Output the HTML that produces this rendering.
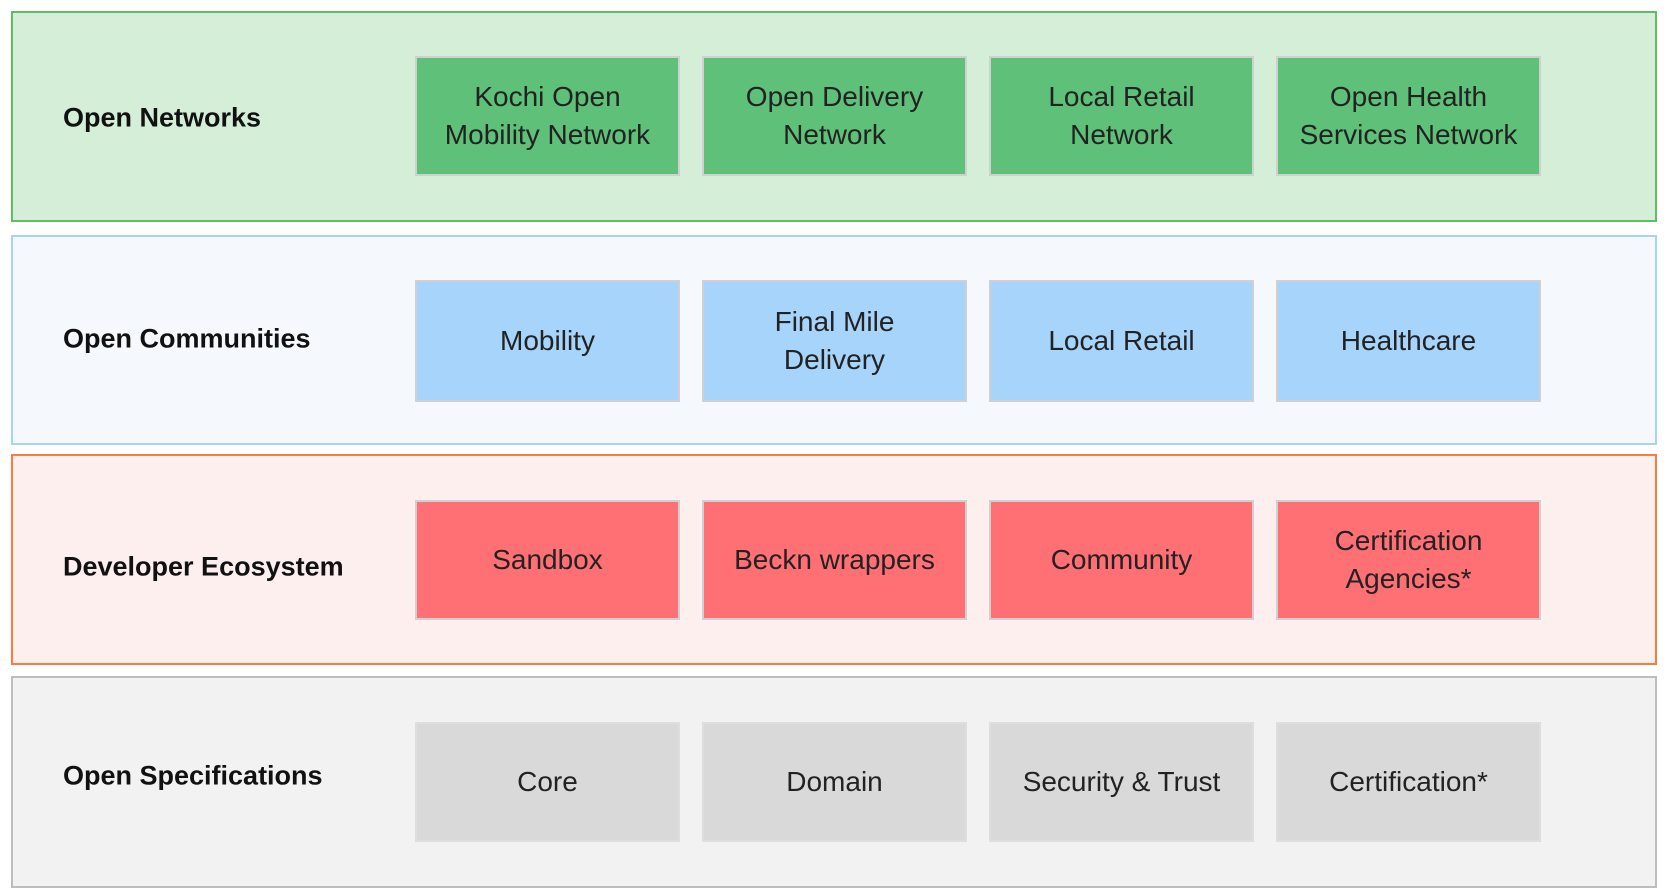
<!DOCTYPE html>
<html><head><style>
body{margin:0;width:1667px;height:896px;background:#fff;position:relative;font-family:"Liberation Sans",sans-serif;overflow:hidden}
.p{position:absolute;left:11px;width:1646px;box-sizing:border-box;border:2px solid}
.l{position:absolute;left:63px;font-weight:bold;font-size:27px;color:#111;transform:translateY(-50%)}
.b{position:absolute;width:265px;box-sizing:border-box;border:2px solid #d0d0d0;display:flex;align-items:center;justify-content:center;text-align:center;font-size:28px;line-height:38px;color:#222}
</style></head><body>
<div class="p" style="top:11px;height:211px;background:#d4eed7;border-color:#5cbf60"></div>
<div class="p" style="top:235px;height:210px;background:#f5f9fe;border-color:#a6d4f7"></div>
<div class="p" style="top:454px;height:211px;background:#fdefee;border-color:#ff7a3d"></div>
<div class="p" style="top:676px;height:212px;background:#f2f2f2;border-color:#bdbdbd"></div>
<div class="l" style="top:118px">Open Networks</div>
<div class="l" style="top:339px">Open Communities</div>
<div class="l" style="top:567px">Developer Ecosystem</div>
<div class="l" style="top:776px">Open Specifications</div>

<div class="b" style="left:415px;top:56px;height:120px;background:#5fc179">Kochi Open<br>Mobility Network</div>
<div class="b" style="left:702px;top:56px;height:120px;background:#5fc179">Open Delivery<br>Network</div>
<div class="b" style="left:989px;top:56px;height:120px;background:#5fc179">Local Retail<br>Network</div>
<div class="b" style="left:1276px;top:56px;height:120px;background:#5fc179">Open Health<br>Services Network</div>

<div class="b" style="left:415px;top:280px;height:122px;background:#a6d4fa">Mobility</div>
<div class="b" style="left:702px;top:280px;height:122px;background:#a6d4fa">Final Mile<br>Delivery</div>
<div class="b" style="left:989px;top:280px;height:122px;background:#a6d4fa">Local Retail</div>
<div class="b" style="left:1276px;top:280px;height:122px;background:#a6d4fa">Healthcare</div>

<div class="b" style="left:415px;top:500px;height:120px;background:#ff7074">Sandbox</div>
<div class="b" style="left:702px;top:500px;height:120px;background:#ff7074">Beckn wrappers</div>
<div class="b" style="left:989px;top:500px;height:120px;background:#ff7074">Community</div>
<div class="b" style="left:1276px;top:500px;height:120px;background:#ff7074">Certification<br>Agencies*</div>

<div class="b" style="left:415px;top:722px;height:120px;background:#d9d9d9;border-color:#dedede">Core</div>
<div class="b" style="left:702px;top:722px;height:120px;background:#d9d9d9;border-color:#dedede">Domain</div>
<div class="b" style="left:989px;top:722px;height:120px;background:#d9d9d9;border-color:#dedede">Security &amp; Trust</div>
<div class="b" style="left:1276px;top:722px;height:120px;background:#d9d9d9;border-color:#dedede">Certification*</div>
</body></html>
